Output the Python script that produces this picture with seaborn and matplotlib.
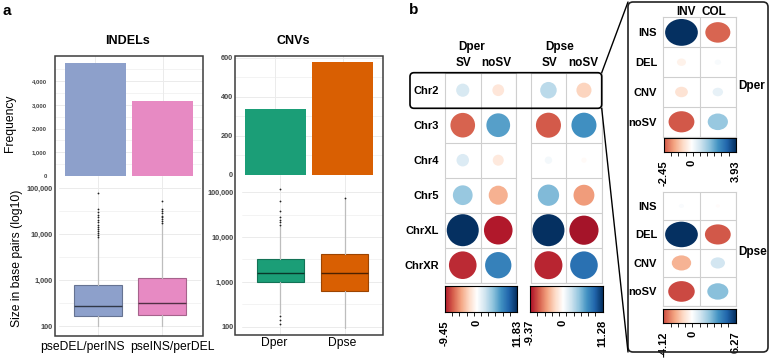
import numpy as np
import pandas as pd
import matplotlib
matplotlib.use("Agg")
import matplotlib.pyplot as plt
import matplotlib.colors as mcolors
from matplotlib.patches import FancyBboxPatch, Rectangle
from matplotlib.lines import Line2D
from matplotlib.markers import MarkerStyle
from matplotlib.path import Path
from matplotlib.transforms import IdentityTransform
from matplotlib.ticker import FixedLocator, NullFormatter
import seaborn as sns

sns.set_theme(style="white")
plt.rcParams['font.family'] = ['Liberation Sans', 'DejaVu Sans']

W, H = 770, 362

# ---------------- panel a data ----------------
indel_groups = ["pseDEL/perINS", "pseINS/perDEL"]
indel_counts = [4760, 3170]
indel_colors = ["#8DA0CB", "#E78AC3"]
indel_ticks = [0, 1000, 2000, 3000, 4000]

cnv_groups = ["Dper", "Dpse"]
cnv_counts = [335, 578]
cnv_colors = ["#1B9E77", "#D95F02"]
cnv_ticks = [0, 200, 400, 600]

# box summaries (bp)
indel_q1 = [165, 173]
indel_med = [276, 321]
indel_q3 = [778, 1090]
indel_lo = [100, 100]
indel_hi = [8300, 17000]
indel_fliers = [[8600, 9400, 10500, 11500, 13000, 14500, 16000, 18000,
                 20000, 23000, 26000, 30000, 35000, 77000],
                [17500, 19000, 21000, 23000, 25000, 28000, 31000, 35000, 52000]]

cnv_q1 = [995, 628]
cnv_med = [1600, 1600]
cnv_q3 = [3290, 4220]
cnv_lo = [205, 92]
cnv_hi = [17500, 70000]
cnv_fliers = [[115, 137, 170, 18700, 21600, 24300, 27500, 39000, 63000, 117000],
              [75000]]

# ---------------- panel b data ----------------
chroms = ["Chr2", "Chr3", "Chr4", "Chr5", "ChrXL", "ChrXR"]
sv_cols = ["SV", "noSV"]
dper_chr = [[2.0, -1.6], [-7.0, 6.5], [1.8, -1.4], [4.5, -4.2], [11.83, -9.45], [-8.8, 8.0]]
dpse_chr = [[3.0, -2.5], [-6.9, 6.9], [0.6, -0.3], [5.0, -4.8], [11.28, -9.37], [-8.6, 8.4]]

sv_types = ["INS", "DEL", "CNV", "noSV"]
inv_cols = ["INV", "COL"]
dper_inv = [[3.93, -2.3], [-0.3, 0.15], [-0.6, 0.4], [-2.45, 1.5]]
dpse_inv = [[0.15, -0.1], [6.27, -3.9], [-2.2, 1.2], [-4.12, 2.6]]

# corrplot-style red/blue scale
COL2 = ["#67001F", "#B2182B", "#D6604D", "#F4A582", "#FDDBC7", "#FFFFFF",
        "#D1E5F0", "#92C5DE", "#4393C3", "#2166AC", "#053061"]
cmap = mcolors.LinearSegmentedColormap.from_list("col2", COL2, N=256)

GRID = "#EBEBEB"
FRAME = "#3C3C3C"
TICK_TXT = "#444444"

fig = plt.figure(figsize=(W / 100, H / 100), dpi=100)
fig.patch.set_facecolor("white")


def px_axes(x0, y0, x1, y1):
    return fig.add_axes([x0 / W, 1 - y1 / H, (x1 - x0) / W, (y1 - y0) / H])


def ftext(x, y, s, **kw):
    fig.text(x / W, 1 - y / H, s, **kw)


def shade(c, f):
    r, g, b = mcolors.to_rgb(c)
    return (r * f, g * f, b * f)


def frame(x0, y0, x1, y1):
    fig.add_artist(Rectangle((x0, H - y1), x1 - x0, y1 - y0, fill=False, ec=FRAME,
                             lw=1.1, transform=IdentityTransform()))


def bar_panel(x0, x1, y0, y1, groups, counts, colors, ytop, ticks, tsize, pad):
    ax = px_axes(x0, y0, x1, y1)
    df = pd.DataFrame({"group": groups, "count": counts})
    sns.barplot(data=df, x="group", y="count", hue="group", palette=colors,
                saturation=1, width=0.9, linewidth=0, legend=False, ax=ax)
    ax.set_xlim(-0.6, 1.6)
    ax.set_ylim(0, ytop)
    ticks = np.array(ticks)
    step = ticks[1] - ticks[0]
    ax.set_yticks(ticks, labels=[f"{int(t):,}" for t in ticks])
    ax.yaxis.set_minor_locator(FixedLocator(ticks + step / 2))
    ax.set_xticks([0, 1], labels=["", ""])
    ax.grid(which="major", color=GRID, lw=0.7)
    ax.grid(which="minor", axis="y", color=GRID, lw=0.4)
    ax.set_axisbelow(True)
    ax.tick_params(axis="y", which="both", length=0, pad=pad, labelsize=tsize,
                   labelcolor=TICK_TXT)
    ax.tick_params(axis="x", length=0)
    for lab in ax.get_yticklabels():
        lab.set_fontweight("bold")
    ax.set_xlabel("")
    ax.set_ylabel("")
    for s in ax.spines.values():
        s.set_visible(False)
    return ax


def box_panel(x0, x1, y0, y1, groups, q1, med, q3, lo, hi, fliers, colors, ylim, pad):
    ax = px_axes(x0, y0, x1, y1)
    ax.set_yscale("log")
    stats = [dict(label=g, q1=a, med=m, q3=b, whislo=l, whishi=h, fliers=f)
             for g, a, m, b, l, h, f in zip(groups, q1, med, q3, lo, hi, fliers)]
    art = ax.bxp(stats, positions=[0, 1], widths=0.74, patch_artist=True, showcaps=False,
                 whiskerprops=dict(color="#BDBDBD", lw=0.9),
                 flierprops=dict(marker="o", markersize=1.3, markerfacecolor="#222222",
                                 markeredgecolor="none"),
                 medianprops=dict(lw=1.0))
    for box, med_line, c in zip(art["boxes"], art["medians"], colors):
        box.set_facecolor(c)
        box.set_edgecolor(shade(c, 0.72))
        box.set_linewidth(0.8)
        med_line.set_color(shade(c, 0.35))
    ax.set_xlim(-0.6, 1.6)
    ax.set_ylim(*ylim)
    majors = [100, 1000, 10000, 100000]
    ax.set_yticks(majors, labels=[f"{m:,}" for m in majors])
    ax.yaxis.set_minor_locator(FixedLocator([10 ** 2.5, 10 ** 3.5, 10 ** 4.5]))
    ax.yaxis.set_minor_formatter(NullFormatter())
    ax.set_xticks([0, 1], labels=["", ""])
    ax.grid(which="major", color=GRID, lw=0.7)
    ax.grid(which="minor", axis="y", color=GRID, lw=0.4)
    ax.set_axisbelow(True)
    ax.tick_params(axis="y", which="both", length=0, pad=pad, labelsize=5.3,
                   labelcolor=TICK_TXT)
    ax.tick_params(axis="x", length=0)
    for lab in ax.get_yticklabels():
        lab.set_fontweight("bold")
    for s in ax.spines.values():
        s.set_visible(False)
    return ax


# ---------------- panel a ----------------
ftext(7, 11, "a", fontsize=11, fontweight="bold", color="black", ha="center", va="center")
ftext(127, 41, "INDELs", fontsize=9, fontweight="bold", color="black", ha="center", va="center")
ftext(293, 41, "CNVs", fontsize=9, fontweight="bold", color="black", ha="center", va="center")
ftext(10, 123, "Frequency", fontsize=8.7, rotation=90, color="black", ha="center", va="center")
ftext(17, 258, "Size in base pairs (log10)", fontsize=8.7, rotation=90, color="black",
      ha="center", va="center")

bar_panel(55, 203, 56, 176, indel_groups, indel_counts, indel_colors, 5053, indel_ticks, 4.2, 6)
bar_panel(235, 383, 56, 174.5, cnv_groups, cnv_counts, cnv_colors, 609, cnv_ticks, 5.3, 1.5)
box_panel(59, 201, 176, 336, indel_groups, indel_q1, indel_med, indel_q3, indel_lo, indel_hi,
          indel_fliers, indel_colors, (10 ** 1.783, 10 ** 5.26), 4.3)
box_panel(242, 383, 174.5, 335, cnv_groups, cnv_q1, cnv_med, cnv_q3, cnv_lo, cnv_hi,
          cnv_fliers, cnv_colors, (10 ** 1.812, 10 ** 5.4), 6.3)
frame(55, 56, 203, 336)
frame(235, 56, 383, 335)

for x, g in zip([82, 172], indel_groups):
    ftext(x, 347, g, fontsize=8.7, color="black", ha="center", va="center")
for x, g in zip([274.5, 342.5], cnv_groups):
    ftext(x, 343, g, fontsize=8.7, color="black", ha="center", va="center")


# ---------------- panel b ----------------
def ellipse_marker(ratio):
    circ = Path.unit_circle()
    return MarkerStyle(Path(circ.vertices * np.array([1.0, ratio]), circ.codes))


def corr_panel(box, rows, cols, values, smax, marker, row_labels=False, lsize=8):
    vals = np.array(values, dtype=float)
    vmax = np.abs(vals).max()
    recs = [(j, i, vals[i, j]) for i in range(len(rows)) for j in range(len(cols))]
    df = pd.DataFrame(recs, columns=["col", "row", "val"])
    df["mag"] = df["val"].abs()
    ax = px_axes(*box)
    sns.scatterplot(data=df, x="col", y="row", hue="val", size="mag", palette=cmap,
                    hue_norm=(-vmax, vmax), sizes=(0, smax), size_norm=(0, vmax),
                    marker=marker, linewidth=0, legend=False, ax=ax, zorder=3)
    ax.set_xlim(-0.5, len(cols) - 0.5)
    ax.set_ylim(len(rows) - 0.5, -0.5)
    ax.set_xticks(np.arange(len(cols)) + 0.5, minor=True)
    ax.set_yticks(np.arange(len(rows)) + 0.5, minor=True)
    ax.set_xticks([])
    if row_labels:
        ax.set_yticks(range(len(rows)), labels=rows)
        for lab in ax.get_yticklabels():
            lab.set_fontweight("bold")
    else:
        ax.set_yticks([])
    ax.grid(which="minor", color="#CFCFCF", lw=0.8)
    ax.tick_params(which="both", length=0, labelsize=lsize, labelcolor="black", pad=4.5)
    ax.set_xlabel("")
    ax.set_ylabel("")
    for s in ax.spines.values():
        s.set_color("#CFCFCF")
        s.set_linewidth(0.8)
    return ax


def corr_cbar(box, lo, hi):
    m = max(abs(lo), abs(hi))
    ax = px_axes(*box)
    grad = np.linspace(lo, hi, 256)[None, :]
    ax.imshow(grad, cmap=cmap, norm=mcolors.Normalize(-m, m), extent=[lo, hi, 0, 1],
              aspect="auto")
    ax.set_xlim(lo, hi)
    ax.set_yticks([])
    ax.set_xticks([lo, 0, hi], labels=[f"{lo:.2f}", "0", f"{hi:.2f}"])
    ax.set_xticks(np.linspace(lo, hi, 11), minor=True)
    ax.tick_params(axis="x", which="minor", bottom=True, direction="out", length=3,
                   width=0.6, color="black")
    ax.tick_params(axis="x", which="major", bottom=True, length=0, pad=6, labelsize=8,
                   labelrotation=90, labelcolor="black")
    for lab in ax.get_xticklabels():
        lab.set_fontweight("bold")
    for s in ax.spines.values():
        s.set_color("black")
        s.set_linewidth(0.8)
    return ax


ftext(414, 10, "b", fontsize=11, fontweight="bold", color="black", ha="center", va="center")

corr_panel((445, 72.7, 516, 282.7), chroms, sv_cols, dper_chr, 531, "o", row_labels=True)
corr_panel((530.7, 72.7, 601.7, 282.7), chroms, sv_cols, dpse_chr, 531, "o")
corr_cbar((445, 286, 517, 311.7), -9.45, 11.83)
corr_cbar((530, 286, 602.7, 311.7), -9.37, 11.28)

hdr = dict(fontsize=8.5, fontweight="bold", color="black", ha="center", va="center")
ftext(472, 47, "Dper", **hdr)
ftext(560, 47, "Dpse", **hdr)
for x, s in zip([464, 496, 549, 583], ["SV", "noSV", "SV", "noSV"]):
    ftext(x, 63, s, **hdr)

corr_panel((663.3, 17.5, 736, 136.7), sv_types, inv_cols, dper_inv, 555,
           ellipse_marker(0.82), row_labels=True)
corr_panel((663.3, 191.7, 736, 305.7), sv_types, inv_cols, dpse_inv, 555,
           ellipse_marker(0.78), row_labels=True)
corr_cbar((664, 138.3, 735.7, 151.7), -2.45, 3.93)
corr_cbar((663.3, 309.3, 735.7, 322.7), -4.12, 6.27)

ftext(686, 12, "INV", **hdr)
ftext(714, 12, "COL", **hdr)
ftext(738, 86, "Dper", fontsize=8.5, fontweight="bold", color="black", ha="left", va="center")
ftext(738, 252, "Dpse", fontsize=8.5, fontweight="bold", color="black", ha="left", va="center")

# zoom box around Chr2 and the inset frame
fig.add_artist(FancyBboxPatch((410, H - 108.3), 601.7 - 410, 108.3 - 72.7,
                              boxstyle="round,pad=0,rounding_size=4", fill=False,
                              ec="black", lw=1.2, transform=IdentityTransform()))
fig.add_artist(FancyBboxPatch((628, H - 352), 768 - 628, 350,
                              boxstyle="round,pad=0,rounding_size=5", fill=False,
                              ec="#222222", lw=1.2, transform=IdentityTransform()))
fig.add_artist(Line2D([601.7, 628], [H - 72.7, H - 2], color="black", lw=1.0,
                      transform=IdentityTransform()))
fig.add_artist(Line2D([601.7, 628], [H - 108.3, H - 352], color="black", lw=1.0,
                      transform=IdentityTransform()))

fig.savefig("out.png", dpi=100, facecolor="white")
